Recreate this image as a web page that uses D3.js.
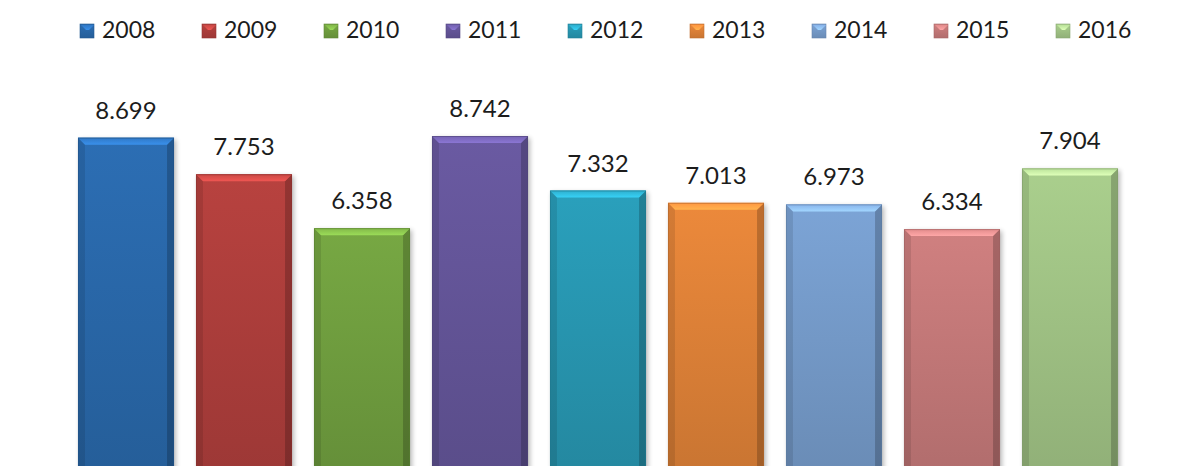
<!DOCTYPE html>
<html>
<head>
<meta charset="utf-8">
<script src="https://cdn.jsdelivr.net/npm/d3@7"></script>
<style>
  html, body { margin: 0; padding: 0; background: #ffffff; overflow: hidden; }
  svg { display: block; }
  text { font-family: Lato, "Open Sans", sans-serif; fill: #1c1c1c; }
</style>
</head>
<body>
<svg id="chart" width="1187" height="466"></svg>
<script>
// Yearly values
const years = ["2008", "2009", "2010", "2011", "2012", "2013", "2014", "2015", "2016"];
const values = [8.699, 7.753, 6.358, 8.742, 7.332, 7.013, 6.973, 6.334, 7.904];
const valueLabels = ["8.699", "7.753", "6.358", "8.742", "7.332", "7.013", "6.973", "6.334", "7.904"];
const palette = ["#2c6eb4", "#b8423f", "#77a843", "#6a5aa2", "#2aa0bc", "#ec893b", "#7ca4d6", "#d08080", "#aacf8d"];

const W = 1187, H = 466;
const svg = d3.select("#chart");

const x = d3.scaleBand()
  .domain(years)
  .range([67, 1129])
  .paddingInner(0.186)
  .paddingOuter(0.093);

const y = d3.scaleLinear()
  .domain([0, 8.742])
  .range([474, 136]);

const color = d3.scaleOrdinal().domain(years).range(palette);

const defs = svg.append("defs");

// soft drop shadow under each bar
const shadow = defs.append("filter").attr("id", "shadow")
  .attr("x", "-10%").attr("y", "-10%").attr("width", "130%").attr("height", "130%");
shadow.append("feGaussianBlur").attr("stdDeviation", 2.5);

years.forEach((yr, i) => {
  const c = d3.color(color(yr));
  const g = defs.append("linearGradient").attr("id", "body-" + i)
    .attr("x1", 0).attr("y1", 0).attr("x2", 0).attr("y2", 1);
  g.append("stop").attr("offset", "0%").attr("stop-color", c.formatHex());
  g.append("stop").attr("offset", "100%").attr("stop-color", c.darker(0.45).formatHex());

  const t = defs.append("linearGradient").attr("id", "top-" + i)
    .attr("x1", 0).attr("y1", 0).attr("x2", 0).attr("y2", 1);
  t.append("stop").attr("offset", "0%").attr("stop-color", c.brighter(0.25).formatHex());
  t.append("stop").attr("offset", "100%").attr("stop-color", c.brighter(0.75).formatHex());
});

const data = years.map((yr, i) => ({ year: yr, value: values[i], label: valueLabels[i], i }));

const bars = svg.append("g").selectAll("g.bar")
  .data(data).join("g").attr("class", "bar");

const bw = x.bandwidth();
const bev = 7;

bars.append("rect")
  .attr("x", d => x(d.year) + 2)
  .attr("y", d => y(d.value) + 2)
  .attr("width", bw)
  .attr("height", d => y(0) - y(d.value))
  .attr("fill", "#000")
  .attr("opacity", 0.28)
  .attr("filter", "url(#shadow)");

bars.append("rect")
  .attr("x", d => x(d.year))
  .attr("y", d => y(d.value))
  .attr("width", bw)
  .attr("height", d => y(0) - y(d.value))
  .attr("fill", d => `url(#body-${d.i})`);

// side bevels
bars.append("path")
  .attr("d", d => {
    const x0 = x(d.year), t = y(d.value), b = y(0);
    return `M${x0},${t}L${x0 + bev},${t + bev}L${x0 + bev},${b}L${x0},${b}Z`;
  })
  .attr("fill", "#000").attr("opacity", 0.1);

bars.append("path")
  .attr("d", d => {
    const x1 = x(d.year) + bw, t = y(d.value), b = y(0);
    return `M${x1},${t}L${x1 - bev},${t + bev}L${x1 - bev},${b}L${x1},${b}Z`;
  })
  .attr("fill", "#000").attr("opacity", 0.2);

// top bevel
bars.append("path")
  .attr("d", d => {
    const x0 = x(d.year), x1 = x0 + bw, t = y(d.value);
    return `M${x0},${t}L${x1},${t}L${x1 - bev},${t + bev}L${x0 + bev},${t + bev}Z`;
  })
  .attr("fill", d => `url(#top-${d.i})`);

bars.append("rect")
  .attr("x", d => x(d.year) + 0.5)
  .attr("y", d => y(d.value) + 0.5)
  .attr("width", bw - 1)
  .attr("height", d => y(0) - y(d.value))
  .attr("fill", "none")
  .attr("stroke", d => d3.color(color(d.year)).darker(0.8).formatHex())
  .attr("stroke-opacity", 0.6)
  .attr("stroke-width", 1);

// value labels above bars
bars.append("text")
  .attr("x", d => x(d.year) + bw / 2)
  .attr("y", d => y(d.value) - 19)
  .attr("text-anchor", "middle")
  .attr("font-size", 24)
  .text(d => d.label);

// legend
const legendX = d3.scaleBand().domain(years).range([80, 80 + 122 * years.length]);
const legend = svg.append("g").selectAll("g.item")
  .data(data).join("g").attr("class", "item")
  .attr("transform", d => `translate(${legendX(d.year)},0)`);

legend.append("rect")
  .attr("x", 0).attr("y", 24)
  .attr("width", 14).attr("height", 14)
  .attr("fill", d => `url(#body-${d.i})`)
  .attr("stroke", d => d3.color(color(d.year)).darker(0.6).formatHex())
  .attr("stroke-width", 0.6);

legend.append("path")
  .attr("d", "M1,25L14,25L9,30L6,30Z")
  .attr("fill", d => `url(#top-${d.i})`);

legend.append("text")
  .attr("x", 22).attr("y", 38)
  .attr("font-size", 23)
  .text(d => d.year);
</script>
</body>
</html>
